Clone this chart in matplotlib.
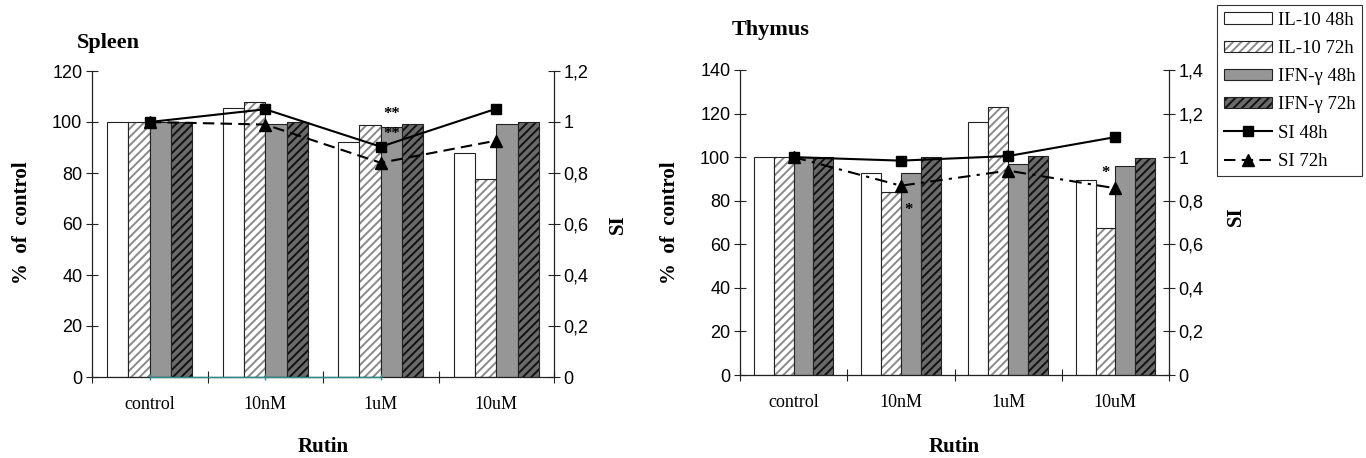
import matplotlib
matplotlib.use('Agg')
import matplotlib.pyplot as plt
from matplotlib.patches import Patch
from matplotlib.lines import Line2D
from matplotlib.ticker import FixedLocator, FuncFormatter
import numpy as np

plt.rcParams['hatch.linewidth'] = 1.4

categories = ['control', '10nM', '1uM', '10uM']

# spleen, % of control
spleen_il10_48 = [100, 105.5, 92.0, 87.7]
spleen_il10_72 = [100, 107.7, 98.9, 77.5]
spleen_ifn_48 = [100, 99.1, 97.9, 99.4]
spleen_ifn_72 = [100, 99.9, 99.4, 100]
# spleen, SI
spleen_si_48 = [1.0, 1.05, 0.903, 1.052]
spleen_si_72 = [1.0, 0.99, 0.84, 0.927]
spleen_zero = [0, 0, 0]

# thymus, % of control
thymus_il10_48 = [100, 92.6, 116.1, 89.5]
thymus_il10_72 = [100, 84.1, 123.0, 67.4]
thymus_ifn_48 = [100, 92.6, 96.9, 95.9]
thymus_ifn_72 = [100, 100.2, 100.7, 99.6]
# thymus, SI
thymus_si_48 = [1.0, 0.984, 1.005, 1.092]
thymus_si_72 = [1.0, 0.869, 0.938, 0.857]

legend_labels = ['IL-10 48h', 'IL-10 72h', 'IFN-\u03b3 48h', 'IFN-\u03b3 72h', 'SI 48h', 'SI 72h']

SERIF = 'Liberation Serif'
SANS = 'Liberation Sans'
EDGE = '#222222'
WHITE = '#ffffff'
HATCH_LIGHT = '#8a8a8a'
GRAY = '#969696'
DARK = '#6a6a6a'
BW = 0.185


def si_fmt(v, _):
    return ('%g' % round(v, 2)).replace('.', ',')


def draw_panel(ax, il10_48, il10_72, ifn_48, ifn_72, si_48, si_72, ymax, si_max, dash72, title_xy, title):
    x = np.arange(len(categories))
    offs = [-1.5 * BW, -0.5 * BW, 0.5 * BW, 1.5 * BW]

    ax.bar(x + offs[0], il10_48, BW, color=WHITE, edgecolor=EDGE, lw=0.8)
    ax.bar(x + offs[1], il10_72, BW, color=WHITE, edgecolor=HATCH_LIGHT, hatch='////', lw=0)
    ax.bar(x + offs[1], il10_72, BW, fill=False, edgecolor=EDGE, lw=0.8)
    ax.bar(x + offs[2], ifn_48, BW, color=GRAY, edgecolor=EDGE, lw=0.8)
    ax.bar(x + offs[3], ifn_72, BW, color=DARK, edgecolor='#111111', hatch='////', lw=0)
    ax.bar(x + offs[3], ifn_72, BW, fill=False, edgecolor=EDGE, lw=0.8)

    ax.set_xlim(-0.5, len(categories) - 0.5)
    ax.set_ylim(0, ymax)
    ax.set_yticks(np.arange(0, ymax + 1, 20))
    ax.set_xticks(np.arange(len(categories) + 1) - 0.5)
    ax.set_xticklabels([])
    ax.set_xticks(x, minor=True)
    ax.set_xticklabels(categories, minor=True, fontfamily=SERIF, fontsize=13)
    ax.tick_params(axis='x', which='major', direction='inout', length=8.5, width=0.8, color=EDGE)
    ax.tick_params(axis='x', which='minor', length=0, pad=14)
    ax.tick_params(axis='y', direction='inout', length=8, width=0.8, pad=3, labelsize=13, color=EDGE)
    for lab in ax.get_yticklabels():
        lab.set_fontfamily(SANS)
    for s in ['top', 'right']:
        ax.spines[s].set_visible(False)
    for s in ['left', 'bottom']:
        ax.spines[s].set_linewidth(0.9)
        ax.spines[s].set_color(EDGE)

    ax.set_ylabel('%  of  control', fontfamily=SERIF, fontweight='bold', fontsize=15)
    ax.set_xlabel('Rutin', fontfamily=SERIF, fontweight='bold', fontsize=15)

    ax2 = ax.twinx()
    ax2.set_ylim(0, si_max)
    ax2.yaxis.set_major_locator(FixedLocator(np.arange(0, si_max + 0.01, 0.2)))
    ax2.yaxis.set_major_formatter(FuncFormatter(si_fmt))
    ax2.tick_params(axis='y', direction='inout', length=8, width=0.8, pad=3, labelsize=13, color=EDGE)
    for lab in ax2.get_yticklabels():
        lab.set_fontfamily(SANS)
    for s in ['top', 'left', 'bottom']:
        ax2.spines[s].set_visible(False)
    ax2.spines['right'].set_linewidth(0.9)
    ax2.spines['right'].set_color(EDGE)
    ax2.plot(x, si_72, color='black', lw=1.5, ls=dash72, marker='^', ms=8, zorder=3)
    ax2.plot(x, si_48, color='black', lw=1.5, marker='s', ms=7.5, zorder=4)
    ax2.set_ylabel('SI', fontfamily=SERIF, fontweight='bold', fontsize=15)

    fig.text(title_xy[0], title_xy[1], title, fontfamily=SERIF, fontweight='bold',
             fontsize=16, ha='left', va='center')
    return ax2


fig = plt.figure(figsize=(13.66, 4.58), dpi=100)
fig.patch.set_facecolor('white')

ax_s = fig.add_axes([92 / 1366, 1 - 377 / 458, 462 / 1366, 306 / 458])
ax_t = fig.add_axes([740 / 1366, 1 - 375 / 458, 429 / 1366, 305 / 458])

ax_s2 = draw_panel(ax_s, spleen_il10_48, spleen_il10_72, spleen_ifn_48, spleen_ifn_72,
                   spleen_si_48, spleen_si_72, 120, 1.2, (0, (5.5, 3)),
                   (77 / 1366, 1 - 43 / 458), 'Spleen')
ax_t2 = draw_panel(ax_t, thymus_il10_48, thymus_il10_72, thymus_ifn_48, thymus_ifn_72,
                   thymus_si_48, thymus_si_72, 140, 1.4, (0, (6, 3, 1.5, 3)),
                   (732 / 1366, 1 - 30 / 458), 'Thymus')

ax_s.xaxis.set_label_coords(0.5, -0.196)
ax_t.xaxis.set_label_coords(0.5, -0.203)
ax_s.yaxis.set_label_coords(-0.13, 0.505)
ax_t.yaxis.set_label_coords(-0.14, 0.5)
ax_s2.yaxis.set_label_coords(1.117, 0.5)
ax_t2.yaxis.set_label_coords(1.133, 0.52)

# stray zero-series along the spleen baseline
ax_s.plot([0, 1, 2], spleen_zero, color='#2a8c8c', lw=1, marker='|', ms=5, zorder=5, clip_on=False)

# significance marks
star_kw = dict(fontfamily=SERIF, fontweight='bold', fontsize=12, ha='center', va='center', zorder=6)
ax_s.text(2 + 0.5 * BW, 103.0, '**', **star_kw)
ax_s.text(2 + 0.5 * BW, 95.3, '**', **star_kw)
ax_t.text(1 + 0.5 * BW - 0.02, 75.7, '*', **star_kw)
ax_t.text(3 - 0.5 * BW, 92.7, '*', **star_kw)

handles = [
    Patch(facecolor=WHITE, edgecolor=EDGE, lw=0.8),
    (Patch(facecolor=WHITE, edgecolor=HATCH_LIGHT, hatch='////', lw=0), Patch(fill=False, edgecolor=EDGE, lw=0.8)),
    Patch(facecolor=GRAY, edgecolor=EDGE, lw=0.8),
    (Patch(facecolor=DARK, edgecolor='#111111', hatch='////', lw=0), Patch(fill=False, edgecolor=EDGE, lw=0.8)),
    Line2D([], [], color='black', lw=1.5, marker='s', ms=7.5),
    Line2D([], [], color='black', lw=1.5, ls=(0, (5.5, 3)), marker='^', ms=8),
]
leg = fig.legend(handles, legend_labels, loc='upper left', bbox_to_anchor=(1217 / 1366, 1 - 5 / 458),
                 bbox_transform=fig.transFigure, borderaxespad=0, frameon=True, fancybox=False,
                 prop={'family': SERIF, 'size': 13.5}, handlelength=2.6, handleheight=0.55,
                 handletextpad=0.3, labelspacing=0.6, borderpad=0.35)
leg.get_frame().set_edgecolor('black')
leg.get_frame().set_linewidth(0.8)

fig.savefig('out.png', dpi=100, facecolor='white')
